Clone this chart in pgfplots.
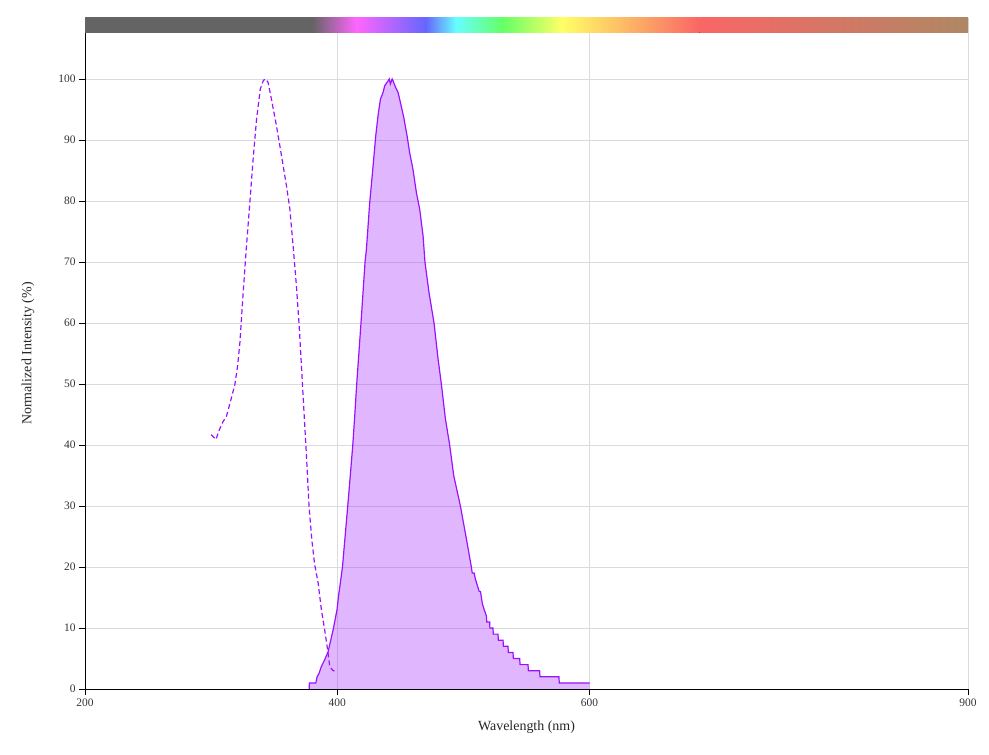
\documentclass[border=0pt]{standalone}
\usepackage{pgfplots}
\pgfplotsset{compat=1.18}
\usepackage{pgfplotstable}
\usepackage{fontspec}
\setmainfont{Liberation Serif}

\definecolor{spec}{RGB}{153,17,255}
\definecolor{cgray}{RGB}{100,100,100}
\definecolor{cmag}{RGB}{255,102,255}
\definecolor{cblue}{RGB}{102,102,255}
\definecolor{ccyan}{RGB}{102,255,255}
\definecolor{cgreen}{RGB}{102,255,102}
\definecolor{cyellow}{RGB}{255,255,102}
\definecolor{cred}{RGB}{250,102,102}
\definecolor{cbrown}{RGB}{174,136,100}

\pgfplotstableread{
x y
300.0 41.7
303.8 40.9
306.5 42.5
309.6 43.9
312.0 44.6
315.0 46.9
318.8 49.9
321.0 53.0
322.8 56.8
325.4 65.0
328.0 72.6
330.7 79.8
333.3 86.9
336.0 93.4
339.0 98.4
341.5 99.8
343.5 100.0
345.2 99.4
347.8 96.7
351.8 92.3
355.8 87.4
359.7 82.5
362.4 78.7
365.0 72.6
367.6 66.1
369.8 59.5
371.6 52.9
373.5 45.8
375.6 38.1
377.6 30.0
379.8 24.5
382.0 20.5
384.8 17.4
387.4 13.0
390.0 9.7
392.7 5.9
394.0 3.7
396.7 3.0
400.0 2.9
}\excitation

\pgfplotstableread{
x y
377.7 0
377.9 1
383.0 1
384.0 2
385.6 2.6
387.4 3.7
390.0 4.8
392.7 6.1
396.7 9.7
399.8 13.0
400.9 15.1
402.5 17.5
404.1 20.0
406.2 25.0
408.3 30.0
410.3 35.0
412.3 40.0
413.9 45.0
415.4 50.0
417.1 55.0
418.8 60.0
420.4 65.0
422.0 70.0
423.1 72.1
425.7 79.7
428.4 85.8
430.5 90.7
432.3 94.0
434.2 96.7
436.3 97.8
437.6 98.9
440.3 99.7
441.2 100.0
442.1 99.2
443.5 100.0
444.2 99.7
446.3 98.6
448.2 97.8
450.1 96.1
452.7 93.7
455.3 90.7
457.4 87.9
460.0 85.2
462.7 81.4
465.3 78.7
468.0 74.3
469.5 70.0
472.7 65.0
476.7 60.0
479.9 54.1
482.5 50.0
485.7 44.3
489.1 40.0
492.3 35.0
497.6 30.0
502.8 24.1
506.3 20.0
507.0 19.0
508.5 19.0
509.5 18.0
511.0 17.0
512.5 16.0
513.5 16.0
515.0 14.0
516.5 13.0
518.2 12.0
518.5 11.0
520.8 11.0
521.0 10.0
523.4 10.0
523.7 9.0
527.4 9.0
527.7 8.0
531.4 8.0
531.7 7.0
535.3 7.0
535.6 6.0
539.3 6.0
539.6 5.0
544.6 5.0
544.9 4.0
551.2 4.0
551.5 3.0
560.4 3.0
560.7 2.0
575.7 2.0
576.0 1.0
600.0 1.0
}\emission

\begin{document}
\begin{tikzpicture}
\useasboundingbox (-85bp,-66bp) rectangle (904bp,689bp);
\begin{axis}[
  at={(0,0)}, anchor=south west,
  scale only axis, width=883bp, height=671bp,
  xmin=200, xmax=900, ymin=0, ymax=110,
  xtick={200,400,600,900},
  ytick={0,10,...,100},
  grid=major,
  major grid style={black!14, line width=0.6pt},
  axis x line=bottom, axis y line=left,
  axis line style={-, black, line width=0.9pt},
  tick style={black, line width=0.6pt},
  major tick length=6bp,
  tick align=outside,
  /pgf/number format/assume math mode=true,
  ticklabel style={font=\fontsize{11.5}{13}\selectfont, text=black!80},
  xlabel={Wavelength (nm)},
  ylabel={Normalized Intensity (\%)},
  label style={font=\fontsize{14}{16}\selectfont, text=black!85},
  xlabel style={at={(axis description cs:0.5,-0.0566)}, anchor=center},
  ylabel style={at={(axis description cs:-0.0646,0.5)}, anchor=center},
  clip=false,
]
\addplot[draw=none, fill=spec, fill opacity=0.3] table {\emission} \closedcycle;
\addplot[spec, line width=1.2bp] table {\emission};
\addplot[spec, line width=1.2bp, dash pattern=on 5bp off 3bp] table {\excitation};

\fill[left color=cgray, right color=cgray] (axis cs:200,107.6) rectangle (axis cs:380.2,110);
\fill[left color=cgray, right color=cmag] (axis cs:380,107.6) rectangle (axis cs:415.2,110);
\fill[left color=cmag, right color=cblue] (axis cs:415,107.6) rectangle (axis cs:470.2,110);
\fill[left color=cblue, right color=ccyan] (axis cs:470,107.6) rectangle (axis cs:494.2,110);
\fill[left color=ccyan, right color=cgreen] (axis cs:494,107.6) rectangle (axis cs:531.2,110);
\fill[left color=cgreen, right color=cyellow] (axis cs:531,107.6) rectangle (axis cs:578.2,110);
\fill[left color=cyellow, right color=cred] (axis cs:578,107.6) rectangle (axis cs:687.2,110);
\fill[left color=cred, right color=cbrown] (axis cs:687,107.6) rectangle (axis cs:900,110);
\end{axis}
\end{tikzpicture}
\end{document}
